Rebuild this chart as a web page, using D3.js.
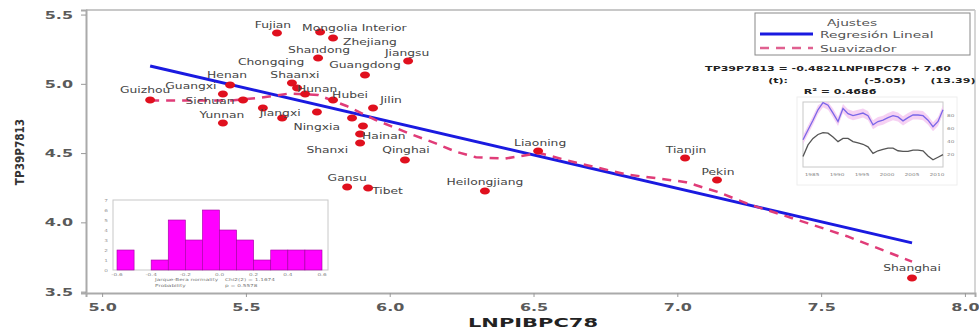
<!DOCTYPE html>
<html><head><meta charset="utf-8">
<script src="https://cdn.jsdelivr.net/npm/d3@7"></script>
<style>body{margin:0;background:#fff;} svg{display:block;font-family:"DejaVu Sans",sans-serif;}</style>
</head><body><svg id="c" width="979" height="333"></svg>
<script>
// ---------- data ----------
const provinces = ["Guizhou","Guangxi","Henan","Yunnan","Sichuan","Anhui","Jiangxi","Shaanxi","Chongqing","Hunan",
  "Fujian","Mongolia Interior","Zhejiang","Shandong","Jiangsu","Guangdong","Hubei","Jilin","Xinjiang","Ningxia",
  "Hebei","Hainan","Shanxi","Qinghai","Gansu","Tibet","Heilongjiang","Liaoning","Tianjin","Pekin","Shanghai"];
const lnpibpc78 = [5.167,5.420,5.445,5.420,5.490,5.559,5.626,5.660,5.678,5.706,
  5.608,5.758,5.803,5.751,6.064,5.914,5.803,5.942,5.747,5.907,
  5.869,5.897,5.897,6.053,5.852,5.925,6.331,6.516,7.027,7.138,7.816];
const tp39p7813 = [4.884,4.927,4.992,4.717,4.884,4.826,4.754,5.006,4.970,4.927,
  5.367,5.374,5.331,5.187,5.165,5.064,4.884,4.826,4.797,4.696,
  4.754,4.638,4.573,4.450,4.255,4.248,4.227,4.515,4.465,4.306,3.598];
const xTicks = [5.0,5.5,6.0,6.5,7.0,7.5,8.0];
const yTicks = [3.5,4.0,4.5,5.0,5.5];
const smoothX = [5.167,5.30,5.45,5.55,5.65,5.75,5.85,5.95,6.07,6.16,6.23,6.30,6.40,6.52,6.65,6.825,6.96,7.03,7.14,7.25,7.40,7.59,7.816];
const smoothY = [4.88,4.88,4.88,4.90,4.93,4.92,4.84,4.74,4.64,4.57,4.51,4.47,4.46,4.50,4.43,4.345,4.31,4.29,4.22,4.13,4.03,3.90,3.717];
const regSlope = -0.4821, regIntercept = 7.62;
const regRange = [5.167, 7.816];
const histCounts = [2,0,1,5,3,6,4,3,1,2,2,2];
const histXLabels = ["-0.6","-0.4","-0.2","0.0","0.2","0.4","0.6"];
const histYLabels = ["0","1","2","3","4","5","6","7"];
const histNotes = [["Jarque-Bera normality","Chi2(2) = 1.1674"],["Probability","p = 0.5578"]];
const tsUpper = [42,57,72,88,99,95,83,70,90,82,79,81,83,79,65,70,72,76,79,77,71,76,80,80,79,72,62,70,88];
const tsLower = [16,34,44,50,53,52,46,39,44,44,39,37,35,31,21,25,27,29,29,25,24,24,26,26,25,17,11,15,19];
const tsXLabels = ["1985","1990","1995","2000","2005","2010"];
const tsYLabels = ["20","40","60","80"];
const xTitle = "LNPIBPC78", yTitle = "TP39P7813";
const legendTitle = "Ajustes";
const legendItems = ["Regresión Lineal","Suavizador"];
const eqLine1 = "TP39P7813 = -0.4821LNPIBPC78 + 7.60";
const eqLine2 = ["(t):","(-5.05)","(13.39)"];
const eqLine3 = "R² = 0.4686";

// ---------- layout (label offsets relative to dot) ----------
const labelPos = {
  "Guizhou":[-5,-7,"middle"],"Guangxi":[-32,-5,"middle"],"Henan":[-3,-7,"middle"],"Yunnan":[-1,-5,"middle"],
  "Sichuan":[-33,4,"middle"],"Jiangxi":[-2,-2,"middle"],"Shaanxi":[3,-5,"middle"],"Chongqing":[-26,-23,"middle"],
  "Hunan":[12,-2,"middle"],"Fujian":[-4,-5,"middle"],"Mongolia Interior":[-18,-1,"start"],"Zhejiang":[10,7,"start"],
  "Shandong":[1,-5,"middle"],"Jiangsu":[-1,-5,"middle"],"Guangdong":[0,-7,"middle"],"Hubei":[17,-2,"middle"],
  "Jilin":[18,-5,"middle"],"Ningxia":[-23,4,"end"],"Hainan":[2,5,"start"],"Shanxi":[-12,10,"end"],
  "Qinghai":[1,-7,"middle"],"Gansu":[0,-6,"middle"],"Tibet":[4,6,"start"],"Heilongjiang":[0,-6,"middle"],
  "Liaoning":[2,-5,"middle"],"Tianjin":[1,-5,"middle"],"Pekin":[1,-5,"middle"],"Shanghai":[0,-7,"middle"]
};
const SX = 1.45;
const svg = d3.select("#c");
const x = d3.scaleLinear().domain([4.944, 8.035]).range([86, 975]);
const y = d3.scaleLinear().domain([3.49, 5.533]).range([293, 10]);

function txt(g, px, py, s, size, anchor, opts={}) {
  const t = g.append("text")
    .attr("transform", `translate(${px},${py}) scale(${opts.sx||SX},1)`)
    .attr("text-anchor", anchor || "start")
    .attr("font-size", size)
    .attr("fill", opts.fill || "#333")
    .text(s);
  if (opts.bold) t.attr("font-weight", "bold");
  return t;
}

// frame
svg.append("line").attr("x1",86).attr("x2",975).attr("y1",10).attr("y2",10).attr("stroke","#c8c8c8").attr("stroke-width",2);
svg.append("line").attr("x1",975).attr("x2",975).attr("y1",10).attr("y2",293).attr("stroke","#c8c8c8").attr("stroke-width",1.5);

// axes
const gx = svg.append("g").attr("transform","translate(0,293)")
  .call(d3.axisBottom(x).tickValues(xTicks).tickFormat(d3.format(".1f")).tickSize(4).tickPadding(6));
const gy = svg.append("g").attr("transform","translate(86,0)")
  .call(d3.axisLeft(y).tickValues(yTicks).tickFormat(d3.format(".1f")).tickSize(5).tickPadding(8));
[gx, gy].forEach(g => {
  g.select(".domain").attr("stroke","#aaa").attr("stroke-width",2);
  g.selectAll(".tick line").attr("stroke","#999");
  g.selectAll(".tick text").attr("font-size",11).attr("font-weight","bold").attr("fill","#5a5a5a")
   .attr("font-family","DejaVu Sans, sans-serif");
});
gx.selectAll(".tick text").attr("transform",`scale(${SX},1)`);
gy.selectAll(".tick text").attr("x", -13/SX).attr("transform",`scale(${SX},1)`);

// axis titles
svg.append("text").attr("x",533).attr("y",327).attr("text-anchor","middle").attr("font-size",12)
  .attr("font-weight","bold").attr("fill","#222").attr("textLength",130).attr("lengthAdjust","spacingAndGlyphs").text(xTitle);
svg.append("text").attr("transform","translate(24,152) rotate(-90) scale(1,1.25)").attr("text-anchor","middle")
  .attr("font-size",10.5).attr("font-weight","bold").attr("fill","#333").text(yTitle);

// regression line
svg.append("line").attr("x1",x(regRange[0])).attr("y1",y(regIntercept+regSlope*regRange[0]))
  .attr("x2",x(regRange[1])).attr("y2",y(regIntercept+regSlope*regRange[1]))
  .attr("stroke","#1a1ae0").attr("stroke-width",3);
// smoother
svg.append("path").datum(smoothX.map((v,i)=>[v,smoothY[i]]))
  .attr("d", d3.line().x(d=>x(d[0])).y(d=>y(d[1])))
  .attr("fill","none").attr("stroke","#e03c78").attr("stroke-width",2.5).attr("stroke-dasharray","9,7");

// points
const gp = svg.append("g");
provinces.forEach((p,i) => {
  gp.append("ellipse").attr("cx",x(lnpibpc78[i])).attr("cy",y(tp39p7813[i])).attr("rx",5).attr("ry",3.5).attr("fill","#e0101e");
});
const gl = svg.append("g");
provinces.forEach((p,i) => {
  const lp = labelPos[p]; if (!lp) return;
  txt(gl, x(lnpibpc78[i])+lp[0], y(tp39p7813[i])+lp[1], p, 8.5, lp[2], {fill:"#454545"});
});

// legend
const lg = svg.append("g");
lg.append("rect").attr("x",755).attr("y",13).attr("width",215).attr("height",42).attr("fill","#fff").attr("stroke","#888");
txt(lg, 852, 26, legendTitle, 9.5, "middle", {fill:"#555"});
lg.append("line").attr("x1",760).attr("x2",813).attr("y1",34).attr("y2",34).attr("stroke","#1a1ae0").attr("stroke-width",3);
txt(lg, 820, 37.5, legendItems[0], 9.5, "start", {fill:"#555"});
lg.append("line").attr("x1",760).attr("x2",813).attr("y1",48).attr("y2",48).attr("stroke","#e06090").attr("stroke-width",2.5).attr("stroke-dasharray","9,7");
txt(lg, 820, 51.5, legendItems[1], 9.5, "start", {fill:"#555"});

// equation
txt(svg, 828, 71, eqLine1, 7.6, "middle", {bold:true, fill:"#222"});
txt(svg, 778, 83, eqLine2[0], 7.6, "middle", {bold:true, fill:"#222"});
txt(svg, 885, 83, eqLine2[1], 7.6, "middle", {bold:true, fill:"#222"});
txt(svg, 953, 83, eqLine2[2], 7.6, "middle", {bold:true, fill:"#222"});
txt(svg, 840, 94, eqLine3, 7.6, "middle", {bold:true, fill:"#222"});

// inset time series
const ts = svg.append("g");
ts.append("rect").attr("x",797).attr("y",97).attr("width",160).attr("height",88).attr("fill","#fff").attr("stroke","#eee");
ts.append("rect").attr("x",803).attr("y",102).attr("width",140).attr("height",65).attr("fill","#fff").attr("stroke","#c8c8c8");
const tx = d3.scaleLinear().domain([0, tsUpper.length-1]).range([803, 943]);
const ty = d3.scaleLinear().domain([0, 100]).range([167, 102]);
ts.append("path").datum(tsUpper).attr("d", d3.area().x((d,i)=>tx(i)).y0(d=>ty(d-7)).y1(d=>ty(Math.min(d+7,100))))
  .attr("fill","#f4c6f0").attr("opacity",0.8);
ts.append("path").datum(tsUpper).attr("d", d3.line().x((d,i)=>tx(i)).y(d=>ty(d)))
  .attr("fill","none").attr("stroke","#7a66e8").attr("stroke-width",1.3);
ts.append("path").datum(tsLower).attr("d", d3.line().x((d,i)=>tx(i)).y(d=>ty(d)))
  .attr("fill","none").attr("stroke","#555").attr("stroke-width",1.3);
tsXLabels.forEach((s,i)=> txt(ts, 812 + i*25, 176, s, 4, "middle", {fill:"#888"}));
tsYLabels.forEach((s,i)=> txt(ts, 947, ty(20+i*20)+1.5, s, 4, "start", {fill:"#888"}));

// inset histogram
const hg = svg.append("g");
hg.append("rect").attr("x",113).attr("y",200).attr("width",215).attr("height",70).attr("fill","#fff").attr("stroke","#c8c8c8");
const hx = d3.scaleLinear().domain([0, histCounts.length]).range([117, 322]);
const hy = d3.scaleLinear().domain([0, 7]).range([270, 200]);
histCounts.forEach((c,i) => {
  if (!c) return;
  hg.append("rect").attr("x",hx(i)).attr("y",hy(c)).attr("width",hx(i+1)-hx(i)).attr("height",hy(0)-hy(c))
    .attr("fill","#ff00ff").attr("stroke","#a000a0").attr("stroke-width",0.6);
});
histXLabels.forEach((s,i)=> txt(hg, hx(i*2), 276, s, 4, "middle", {fill:"#888"}));
histYLabels.forEach((s,i)=> txt(hg, 108, hy(i)+1.5, s, 4, "end", {fill:"#999"}));
txt(hg, 155, 281, histNotes[0][0], 4, "start", {fill:"#777"});
txt(hg, 225, 281, histNotes[0][1], 4, "start", {fill:"#777"});
txt(hg, 155, 287, histNotes[1][0], 4, "start", {fill:"#777"});
txt(hg, 225, 287, histNotes[1][1], 4, "start", {fill:"#777"});
</script></body></html>
